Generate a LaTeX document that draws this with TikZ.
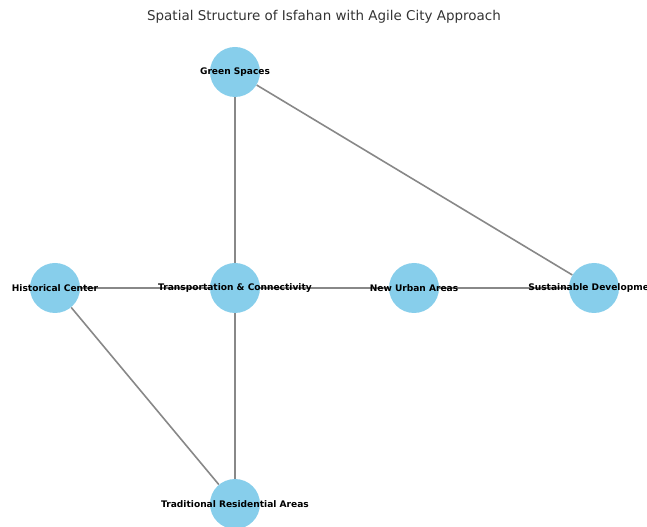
\documentclass[tikz,border=0pt]{standalone}
\usepackage{fontspec}
\setmainfont{DejaVu Sans}
\usetikzlibrary{backgrounds}
\definecolor{skyblue}{HTML}{87CEEB}
\definecolor{edgegray}{HTML}{888888}
\tikzset{
  citytext/.style={inner sep=0pt,font=\fontsize{6.8}{8}\selectfont\bfseries},
  city/.style={circle,fill=skyblue,minimum size=37.5pt,inner sep=0pt,
    label={[citytext]center:#1}}
}
\begin{document}
\begin{tikzpicture}[x=0.75pt,y=-0.75pt]
  \useasboundingbox (0,0) rectangle (647,527);
  \clip (0,0) rectangle (647,527);
  \node[text=black!80] (title) at (324,17) {\fontsize{10.1}{12}\selectfont Spatial Structure of Isfahan with Agile City Approach};
  % the places
  \node[city=Green Spaces] (green) at (235,72) {};
  \node[city=Historical Center] (hist) at (55,288) {};
  \node[city=Transportation \& Connectivity] (trans) at (235,288) {};
  \node[city=New Urban Areas] (newurban) at (414,288) {};
  \node[city=Sustainable Development] (sust) at (594,288) {};
  \node[city=Traditional Residential Areas] (trad) at (235,504) {};
  % links, under the circles and texts
  \begin{scope}[on background layer,every edge/.style={draw=edgegray,line width=1.2pt}]
  \path (green) edge (trans);
  \path (green) edge (sust);
  \path (hist) edge (trans);
  \path (trans) edge (newurban);
  \path (newurban) edge (sust);
  \path (hist) edge (trad);
  \path (trans) edge (trad);
  \end{scope}
\end{tikzpicture}
\end{document}
